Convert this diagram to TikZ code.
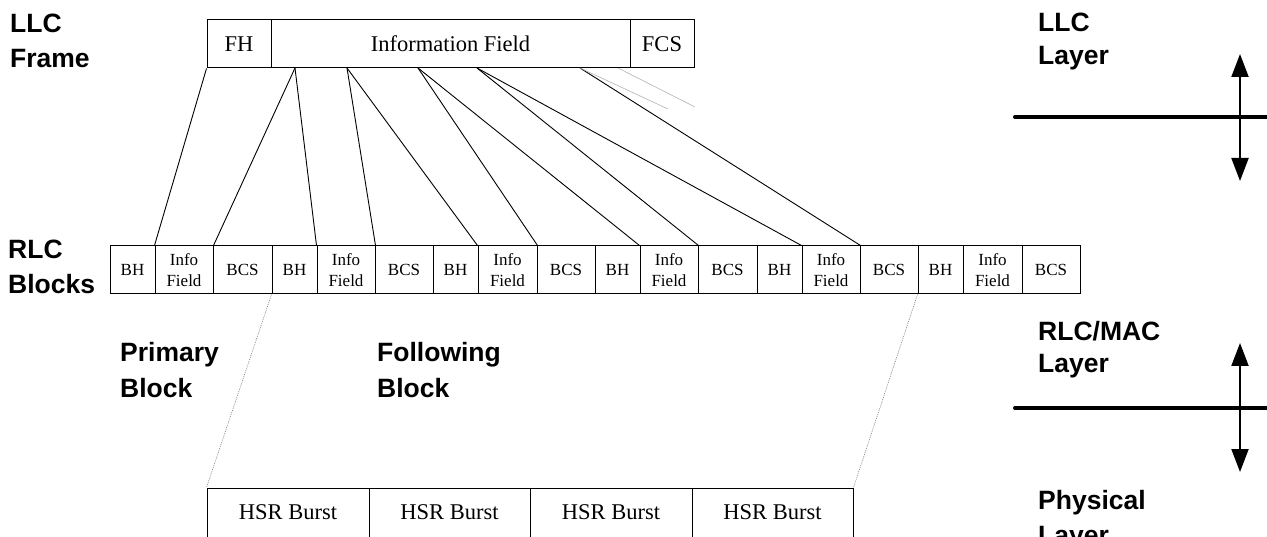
\documentclass[tikz,border=0pt]{standalone}
\usepackage{fontspec}
\setmainfont{Liberation Serif}
\newfontfamily\labfont{Liberation Sans}
\usetikzlibrary{arrows.meta}
\begin{document}
\begin{tikzpicture}[x=1pt,y=-1pt,
  framebox/.style={draw, line width=1pt, inner sep=0pt, minimum height=48pt, font=\fontsize{22.5}{25}\selectfont},
  cell/.style={draw, line width=1pt, inner sep=0pt, minimum height=48pt, align=center, font=\fontsize{17}{21}\selectfont},
  burst/.style={draw, line width=1pt, inner sep=0pt, minimum height=49pt, font=\fontsize{22.5}{25}\selectfont},
  lab/.style={font=\labfont\bfseries\fontsize{26.5}{30}\selectfont, inner sep=0pt, anchor=base west},
  conn/.style={line width=0.9pt},
  ghost/.style={line width=0.6pt, gray!60},
  dots/.style={line width=0.6pt, gray, dash pattern=on 1pt off 1pt},
  layerline/.style={line width=4pt, line cap=round},
  updown/.style={line width=2pt, {Triangle[width=17pt,length=23pt]}-{Triangle[width=17pt,length=23pt]}}
]
\useasboundingbox (0,0) rectangle (1267,537);

% LLC frame
\node[framebox, minimum width=64pt]  (fh)   at (239,44)   {FH};
\node[framebox, minimum width=359pt] (info) at (450.5,44) {Information Field};
\node[framebox, minimum width=64pt]  (fcs)  at (662,44)   {FCS};

% RLC blocks
\node[cell, minimum width=45pt] (b1)  at (132.5,270) {BH};
\node[cell, minimum width=58pt] (b2)  at (184,270)   {Info\\Field};
\node[cell, minimum width=59pt] (b3)  at (242.5,270) {BCS};
\node[cell, minimum width=45pt] (b4)  at (294.5,270) {BH};
\node[cell, minimum width=58pt] (b5)  at (346,270)   {Info\\Field};
\node[cell, minimum width=58pt] (b6)  at (404,270)   {BCS};
\node[cell, minimum width=45pt] (b7)  at (455.5,270) {BH};
\node[cell, minimum width=59pt] (b8)  at (507.5,270) {Info\\Field};
\node[cell, minimum width=58pt] (b9)  at (566,270)   {BCS};
\node[cell, minimum width=45pt] (b10) at (617.5,270) {BH};
\node[cell, minimum width=58pt] (b11) at (669,270)   {Info\\Field};
\node[cell, minimum width=59pt] (b12) at (727.5,270) {BCS};
\node[cell, minimum width=45pt] (b13) at (779.5,270) {BH};
\node[cell, minimum width=58pt] (b14) at (831,270)   {Info\\Field};
\node[cell, minimum width=58pt] (b15) at (889,270)   {BCS};
\node[cell, minimum width=45pt] (b16) at (940.5,270) {BH};
\node[cell, minimum width=59pt] (b17) at (992.5,270) {Info\\Field};
\node[cell, minimum width=58pt] (b18) at (1051,270)  {BCS};

% HSR bursts
\node[burst, minimum width=162pt] (h1) at (288,512.5)   {HSR Burst};
\node[burst, minimum width=161pt] (h2) at (449.5,512.5) {HSR Burst};
\node[burst, minimum width=162pt] (h3) at (611,512.5)   {HSR Burst};
\node[burst, minimum width=161pt] (h4) at (772.5,512.5) {HSR Burst};

% fan-out points on the information field
\coordinate (p1) at (295,68);
\coordinate (p2) at (347,68);
\coordinate (p3) at (418,68);
\coordinate (p4) at (477,68);
\coordinate (p5) at (580,68);
\coordinate (p6) at (618,68);
\coordinate (g1) at (668,109);
\coordinate (g2) at (695,107);

\draw[conn] (fh.south west) -- (b2.north west);
\draw[conn] (p1) -- (b2.north east);
\draw[conn] (p1) -- (b5.north west);
\draw[conn] (p2) -- (b5.north east);
\draw[conn] (p2) -- (b8.north west);
\draw[conn] (p3) -- (b8.north east);
\draw[conn] (p3) -- (b11.north west);
\draw[conn] (p4) -- (b11.north east);
\draw[conn] (p4) -- (b14.north west);
\draw[conn] (p5) -- (b14.north east);
\draw[ghost] (p5) -- (g1);
\draw[ghost] (p6) -- (g2);

\draw[dots] (b4.south west) -- (h1.north west);
\draw[dots] (b16.south west) -- (h4.north east);

% left labels
\node[lab] (l1a) at (10,33)  {LLC};
\node[lab] (l1b) at (10,68)  {Frame};
\node[lab] (l2a) at (8,259)  {RLC};
\node[lab] (l2b) at (8,294)  {Blocks};
\node[lab] (l3a) at (120,362) {Primary};
\node[lab] (l3b) at (120,398) {Block};
\node[lab] (l4a) at (377,362) {Following};
\node[lab] (l4b) at (377,398) {Block};

% right labels
\node[lab] (r1a) at (1038,32)  {LLC};
\node[lab] (r1b) at (1038,65)  {Layer};
\node[lab] (r2a) at (1038,341) {RLC/MAC};
\node[lab] (r2b) at (1038,373) {Layer};
\node[lab] (r3a) at (1038,509) {Physical};
\node[lab] (r3b) at (1038,544) {Layer};

% layer boundaries
\coordinate (s1a) at (1015,117);
\coordinate (s1b) at (1280,117);
\coordinate (t1a) at (1240,54);
\coordinate (t1b) at (1240,181);
\draw[layerline] (s1a) -- (s1b);
\draw[updown] (t1a) -- (t1b);

\coordinate (s2a) at (1015,408);
\coordinate (s2b) at (1280,408);
\coordinate (t2a) at (1240,343);
\coordinate (t2b) at (1240,472);
\draw[layerline] (s2a) -- (s2b);
\draw[updown] (t2a) -- (t2b);
\end{tikzpicture}
\end{document}
